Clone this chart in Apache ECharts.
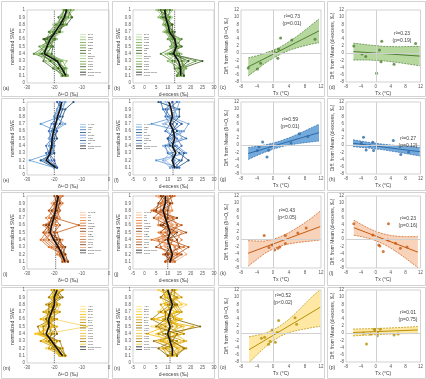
<!DOCTYPE html>
<html><head><meta charset="utf-8">
<script src="https://cdn.jsdelivr.net/npm/echarts@6/dist/echarts.min.js"></script>
<style>html,body{margin:0;padding:0;background:#fff}#c{width:426px;height:379px}</style>
</head><body><div id="c"></div>
<script>
// Normalized SWE levels at which each snow-pit profile was sampled
const sweLevels = [0.1, 0.2, 0.3, 0.4, 0.5, 0.6, 0.7, 0.8, 0.9, 1.0];

// ---------- Region 1 (green) ----------
const stations1 = ['BAG','BRD','CHU','COE','BOU','CBD','BT','TB','BNNN','RMT','SFR','FRE','PCO','ECT'];
const d18O1 = [
  [-16.5,-18.0,-20.5,-24.5,-23.0,-21.0,-19.5,-18.0,-16.0,-15.0],
  [-15.0,-16.5,-18.0,-22.0,-24.5,-22.0,-20.5,-17.0,-15.5,-16.0],
  [-17.5,-19.5,-23.0,-26.5,-22.0,-20.5,-18.0,-19.0,-17.5,-14.5],
  [-16.0,-17.0,-21.0,-25.0,-21.5,-23.0,-21.5,-18.5,-14.0,-15.5],
  [-15.5,-18.5,-17.5,-22.5,-25.5,-20.0,-19.0,-16.5,-17.0,-16.5],
  [-17.0,-16.0,-19.5,-27.5,-23.5,-19.5,-22.0,-19.5,-15.0,-14.0],
  [-16.0,-20.5,-24.0,-23.0,-21.0,-24.0,-18.5,-17.5,-18.5,-16.0],
  [-15.5,-17.5,-19.0,-21.0,-20.5,-22.5,-20.0,-15.5,-13.5,-15.0],
  [-17.5,-18.0,-22.0,-24.0,-23.0,-21.0,-17.0,-20.5,-16.5,-17.0],
  [-16.5,-17.0,-15.5,-23.5,-22.5,-19.0,-21.0,-18.0,-17.0,-14.5],
  [-15.0,-19.0,-20.5,-25.5,-24.0,-22.0,-19.0,-16.0,-15.5,-13.0],
  [-16.0,-16.5,-18.5,-22.5,-21.0,-20.5,-20.5,-19.0,-17.5,-16.5],
  [-17.0,-18.5,-21.5,-24.5,-22.5,-23.5,-18.0,-17.0,-16.0,-15.5],
  [-15.5,-15.5,-17.0,-21.5,-23.5,-21.5,-20.0,-18.5,-15.5,-15.0]
];
const dex1 = [
  [16,17,15,11,14,13,10,9,8,9],
  [15,14,18,13,12,15,12,11,10,7],
  [17,16,13,9,16,12,9,11,6,8],
  [14,18,16,14,11,14,11,8,9,10],
  [16,15,22,12,15,10,12,10,11,6],
  [15,13,12,7,13,16,9,12,7,9],
  [17,17,16,15,12,11,13,9,10,11],
  [14,16,25,11,16,13,10,11,8,7],
  [16,15,11,13,14,14,8,10,12,9],
  [15,17,14,16,12,12,12,8,9,5],
  [16,14,17,10,15,15,11,11,7,10],
  [14,16,13,14,13,12,10,9,11,8],
  [17,15,19,12,14,13,12,12,9,9],
  [16,16,10,13,13,11,9,10,10,12]
];
const depthMeanD18O1 = [-15.8,-17.3,-19.0,-23.7,-22.7,-21.5,-19.7,-17.9,-16.4,-15.5];
const depthMeanDex1 = [15.6,15.6,14.7,12.6,13.7,13.0,10.8,10.1,9.1,8.7];
const meanD18O1 = -20, meanDex1 = 13;
const txD18O1 = [[-6.2,-4.1],[-3.9,-4.4],[-3.1,-2.8],[0.2,0.5],[1.2,-1.4],[1.4,1.1],[1.9,4.2],[4.7,3.7],[10.5,3.9]];
const fitD18O1 = [[-6.2,-3.8],[11.5,6.2]];
const bandXD18O1 = [-6.2,-4,-2,0,2,4,6,8,10,11.5];
const bandHiD18O1 = [-1.3,-0.7,0.0,0.8,1.8,3.2,4.7,6.4,8.2,9.5];
const bandLoD18O1 = [-6.3,-4.5,-2.8,-1.4,-0.2,0.8,1.5,2.1,2.6,2.9];
const statD18O1 = ['r²=0.73','(p=0.01)'];
const txDex1 = [[-5.9,2.0],[-3.7,-0.2],[-2.7,-0.9],[0.2,-5.6],[1.0,0.9],[1.6,3.3],[1.4,-2.4],[4.9,-3.1],[10.7,2.7]];
const fitDex1 = [[-6.0,0.45],[11.8,-0.8]];
const bandXDex1 = [-6.0,-2,2,6,11.8];
const bandHiDex1 = [2.8,2.3,1.9,1.8,1.9];
const bandLoDex1 = [-1.9,-1.9,-2.1,-2.6,-3.5];
const statDex1 = ['r²=0.23','(p=0.19)'];

// ---------- Region 2 (blue) ----------
const stations2 = ['LAKD','CDL','CR','SP','TUOL','CRN','GRMS','BF'];
const d18O2 = [
  [-19,-24,-22,-21,-20,-21,-19,-19,-18,-17],
  [-20,-29,-21,-22,-21,-19,-25,-18,-17,-16],
  [-19,-22,-23,-20,-22,-21,-20,-20,-19,-18],
  [-20,-25,-20,-21,-19,-20,-18,-17,-16,-13],
  [-19,-21,-22,-23,-21,-22,-21,-19,-18,-18],
  [-20,-23,-21,-20,-22,-20,-17,-19,-19,-17],
  [-19,-20,-22,-21,-20,-19,-20,-18,-17,-19],
  [-20,-24,-21,-20,-21,-20,-16,-20,-18,-16]
];
const dex2 = [
  [13,9,16,12,14,10,8,13,11,9],
  [15,5,18,14,11,16,3,14,13,12],
  [11,15,10,9,18,12,14,10,8,7],
  [14,19,15,11,10,14,12,15,15,6],
  [15,12,12,16,14,9,11,9,10,14],
  [11,8,11,8,16,15,9,13,13,10],
  [13,16,17,13,10,12,16,11,9,12],
  [12,13,12,10,12,17,19,11,14,15]
];
const depthMeanD18O2 = [-19.5,-23.0,-21.5,-21.0,-20.8,-20.3,-19.5,-18.8,-17.9,-17.3];
const depthMeanDex2 = [13.0,12.0,13.5,12.0,13.0,12.5,11.0,12.0,11.5,10.5];
const meanD18O2 = -20, meanDex2 = 12.3;
const txD18O2 = [[-3.9,-1.5],[-3.5,-0.4],[-2.6,0.9],[-1.5,-3.3],[-1.1,-1.4],[-0.6,-0.2],[4.5,0.7],[6.6,3.2],[8.7,2.4]];
const fitD18O2 = [[-6.2,-2.3],[11.5,3.5]];
const bandXD18O2 = [-6.2,-4,-2,0,2,4,6,8,10,11.5];
const bandHiD18O2 = [-0.65,-0.28,0.07,0.58,1.24,2.04,3.0,4.0,5.06,5.85];
const bandLoD18O2 = [-3.95,-2.88,-1.93,-1.12,-0.46,0.04,0.4,0.7,0.96,1.15];
const statD18O2 = ['r²=0.59','(p=0.01)'];
const txDex2 = [[-3.3,2.2],[-3.9,0.6],[-2.6,-1.3],[-1.6,-0.1],[-0.8,0.8],[-0.6,-1.5],[4.7,1.3],[6.7,-2.6],[8.8,-1.9]];
const fitDex2 = [[-6.1,0.55],[11.8,-1.8]];
const bandXDex2 = [-6.1,-2,2,6,11.8];
const bandHiDex2 = [1.5,0.81,0.27,-0.14,-0.6];
const bandLoDex2 = [-0.4,-0.79,-1.29,-1.94,-3.0];
const statDex2 = ['r²=0.27','(p=0.12)'];

// ---------- Region 3 (orange) ----------
const stations3 = ['CHWS','LP','CL','BC','COLL','RMOD','CDB','CUR','CBI','GMS','MCH','LMR','MAN','BBF'];
const d18O3 = [
  [-16,-17,-19,-21,-22,-20,-21,-19,-19,-18],
  [-15,-18,-17,-19,-24,-22,-19,-20,-18,-19],
  [-17,-16,-20,-23,-21,-23,-20,-18,-20,-17],
  [-16,-19,-18,-20,-20,-19,-22,-21,-19,-18],
  [-15,-17,-22,-25,-23,-21,-18,-19,-17,-19],
  [-17,-16,-17,-18,-19,-11,-20,-20,-20,-18],
  [-16,-18,-19,-22,-24,-22,-21,-18,-19,-20],
  [-16,-17,-16,-19,-20,-23,-19,-21,-18,-18],
  [-17,-16,-20,-21,-22,-20,-20,-19,-21,-19],
  [-15,-18,-18,-17,-23,-21,-23,-20,-18,-18],
  [-16,-17,-21,-24,-21,-24,-19,-18,-19,-17],
  [-17,-18,-17,-20,-20,-18,-20,-22,-20,-19],
  [-15,-16,-19,-18,-22,-22,-21,-19,-18,-19],
  [-16,-17,-20,-23,-21,-20,-18,-20,-19,-18]
];
const dex3 = [
  [11,13,9,7,14,10,8,6,11,9],
  [13,18,15,5,9,14,5,10,7,11],
  [9,10,7,14,16,8,13,4,9,6],
  [11,15,13,10,6,12,7,12,11,9],
  [13,8,17,3,13,6,11,3,7,13],
  [9,12,11,12,9,16,9,9,8,7],
  [11,16,5,9,18,10,4,7,12,11],
  [12,10,15,14,11,7,14,5,6,8],
  [10,14,9,8,8,12,11,11,10,5],
  [11,12,13,16,13,6,6,9,11,10],
  [13,11,7,6,12,14,12,7,7,9],
  [9,14,19,11,7,10,9,4,9,12],
  [11,9,11,10,14,8,10,10,11,7],
  [12,13,10,8,10,12,7,8,8,9]
];
const depthMeanD18O3 = [-16.1,-17.2,-18.5,-20.2,-21.5,-21.0,-20.2,-19.6,-19.1,-18.5];
const depthMeanDex3 = [11,12,11,10,11,10,9,8,9,9];
const meanD18O3 = -19.5, meanDex3 = 10;
const txD18O3 = [[-2.2,1.0],[-1.0,-2.3],[-0.2,-1.6],[0.4,-3.0],[1.2,-2.5],[1.7,-2.2],[3.1,-1.2],[3.1,1.0],[6.2,1.7],[8.3,3.1]];
const fitD18O3 = [[-6.2,-3.9],[11.8,3.5]];
const bandXD18O3 = [-6.2,-4,-2,0,2,4,6,8,10,11.8];
const bandHiD18O3 = [-0.4,-0.5,-0.5,-0.05,0.75,1.85,3.15,4.6,6.2,7.8];
const bandLoD18O3 = [-7.5,-5.6,-3.9,-2.7,-1.85,-1.3,-0.95,-0.7,-0.45,-0.25];
const statD18O3 = ['r²=0.43','(p<0.05)'];
const txDex3 = [[-5.9,4.3],[-0.8,1.2],[0.8,-1.6],[1.1,-1.9],[2.0,-3.4],[3.4,4.3],[3.3,-0.2],[5.3,-1.1],[6.6,-2.5],[8.4,-2.2]];
const fitDex3 = [[-5.9,3.2],[11.3,-3.6]];
const bandXDex3 = [-5.9,-4,-2,0,2,4,6,8,10,11.3];
const bandHiDex3 = [5.3,4.15,3.06,2.17,1.48,1.04,0.8,0.71,0.72,0.7];
const bandLoDex3 = [1.1,0.75,0.26,-0.43,-1.32,-2.46,-3.8,-5.29,-6.88,-7.9];
const statDex3 = ['r²=0.23','(p=0.16)'];

// ---------- Region 4 (gold) ----------
const stations4 = ['AGH','BCR','BLN','CHP','DRY','ELK','FLT','GRN','HNT','JCK','KNG','LWR','MSC','NVD','OWL'];
const d18O4 = [
  [-17,-19,-22,-24,-23,-21,-22,-20,-21,-19],
  [-16,-21,-20,-26,-20,-24,-19,-21,-19,-18],
  [-18,-17,-24,-22,-25,-20,-23,-19,-20,-20],
  [-17,-20,-19,-27,-21,-23,-20,-22,-18,-19],
  [-16,-18,-23,-21,-19,-25,-21,-18,-21,-17],
  [-18,-22,-21,-24,-24,-19,-24,-20,-20,-21],
  [-17,-19,-25,-20,-22,-22,-18,-23,-19,-18],
  [-16,-17,-18,-25,-26,-21,-22,-19,-22,-20],
  [-18,-20,-22,-19,-20,-23,-20,-21,-17,-19],
  [-17,-23,-20,-23,-8,-20,-21,-20,-20,-18],
  [-16,-18,-21,-25,-23,-24,-19,-18,-21,-20],
  [-18,-19,-23,-22,-21,-21,-23,-21,-19,-19],
  [-17,-21,-19,-24,-24,-20,-20,-19,-20,-17],
  [-16,-18,-22,-21,-22,-23,-22,-22,-18,-20],
  [-18,-20,-20,-26,-20,-22,-21,-20,-21,-19]
];
const dex4 = [
  [12,14,8,6,13,8,11,15,9,8],
  [14,7,16,13,3,15,9,11,15,12],
  [10,17,6,16,17,5,13,9,7,14],
  [12,10,14,1,9,16,7,16,13,6],
  [14,15,7,14,21,4,15,13,11,10],
  [10,8,17,8,6,13,9,7,16,12],
  [12,18,11,11,14,11,16,14,9,8],
  [14,12,4,17,9,3,7,11,13,13],
  [10,6,12,9,24,13,11,13,7,10],
  [12,15,9,5,11,9,13,18,11,6],
  [13,10,18,13,7,15,6,9,13,12],
  [11,14,8,10,16,8,14,12,10,10],
  [12,9,14,6,12,11,11,10,14,8],
  [14,17,12,14,5,9,9,14,11,12],
  [11,12,10,11,14,13,13,9,9,10]
];
const depthMeanD18O4 = [-17,-19,-21,-23,-22,-22,-21,-20,-20,-19];
const depthMeanDex4 = [12,12,11,10,11,10,11,12,11,10];
const meanD18O4 = -20, meanDex4 = 11;
const txD18O4 = [[-2.9,-1.4],[-2.1,-1.1],[-1.1,-3.1],[-0.7,-2.3],[-0.2,0.9],[0.6,-2.5],[1.0,0.2],[1.4,3.5],[5.5,4.3],[5.9,2.5]];
const fitD18O4 = [[-6.0,-4.6],[11.8,7.2]];
const bandXD18O4 = [-6,-4,-2,0,2,4,6,8,10,11.8];
const bandHiD18O4 = [-1.0,-0.57,0.0,0.88,2.16,3.88,5.96,8.18,10.41,12.0];
const bandLoD18O4 = [-8.2,-5.97,-3.9,-2.12,-0.74,0.18,0.76,1.18,1.61,1.9];
const statD18O4 = ['r²=0.52','(p<0.02)'];
const txDex4 = [[-3.3,0.0],[-1.4,-0.2],[-0.4,1.1],[-0.2,0.9],[0.4,0.2],[1.2,1.1],[0.4,-0.7],[4.9,-0.5],[6.0,-0.2],[-2.5,-3.0]];
const fitDex4 = [[-6.1,0.2],[11.3,0.9]];
const bandXDex4 = [-6.1,0,6,11.3];
const bandHiDex4 = [1.15,1.3,1.55,1.85];
const bandLoDex4 = [-0.75,-0.4,-0.15,-0.05];
const statDex4 = ['r²=0.01','(p=0.75)'];

// ---------- styling per region ----------
const regions = [
  { stations: stations1, d18O: d18O1, dex: dex1, dmD: depthMeanD18O1, dmX: depthMeanDex1, mD: meanD18O1, mX: meanDex1,
    palette: ['#c5e0b4','#a9d18e','#8fbc6b','#70ad47','#629a3c','#548235','#476f2d','#3b5e26','#b5d69a','#9dc47d','#7fb357','#5d8f3a','#35531f','#88b867'],
    dark: '#4e7d30', fill: '#a9d18e', fillOpacity: 0.85,
    regD: { pts: txD18O1, fit: fitD18O1, bx: bandXD18O1, hi: bandHiD18O1, lo: bandLoD18O1, stat: statD18O1, pos: [51, 3] },
    regX: { pts: txDex1, fit: fitDex1, bx: bandXDex1, hi: bandHiDex1, lo: bandLoDex1, stat: statDex1, pos: [56, 20] },
    letters: ['(a)','(b)','(c)','(d)'], legTop: 23 },
  { stations: stations2, d18O: d18O2, dex: dex2, dmD: depthMeanD18O2, dmX: depthMeanDex2, mD: meanD18O2, mX: meanDex2,
    palette: ['#9dc3e6','#5b9bd5','#2e75b6','#1f4e79','#4472c4','#8faadc','#2f5597','#6a9fd4'],
    dark: '#2e6aa8', fill: '#5b9bd5', fillOpacity: 0.85,
    regD: { pts: txD18O2, fit: fitD18O2, bx: bandXD18O2, hi: bandHiD18O2, lo: bandLoD18O2, stat: statD18O2, pos: [49, 14] },
    regX: { pts: txDex2, fit: fitDex2, bx: bandXDex2, hi: bandHiDex2, lo: bandLoDex2, stat: statDex2, pos: [62, 33] },
    letters: ['(e)','(f)','(g)','(h)'], legTop: 21 },
  { stations: stations3, d18O: d18O3, dex: dex3, dmD: depthMeanD18O3, dmX: depthMeanDex3, mD: meanD18O3, mX: meanDex3,
    palette: ['#f8cbad','#f4b183','#ee9b63','#ed7d31','#dd6d22','#c55a11','#a94c0e','#843c0c','#f2a36e','#e08a4f','#cf6a2a','#b35214','#7a360b','#e9a070'],
    dark: '#c55a11', fill: '#f8cbad', fillOpacity: 0.85,
    regD: { pts: txD18O3, fit: fitD18O3, bx: bandXD18O3, hi: bandHiD18O3, lo: bandLoD18O3, stat: statD18O3, pos: [46, 11] },
    regX: { pts: txDex3, fit: fitDex3, bx: bandXDex3, hi: bandHiDex3, lo: bandLoDex3, stat: statDex3, pos: [62, 19] },
    letters: ['(i)','(j)','(k)','(l)'], legTop: 15 },
  { stations: stations4, d18O: d18O4, dex: dex4, dmD: depthMeanD18O4, dmX: depthMeanDex4, mD: meanD18O4, mX: meanDex4,
    palette: ['#ffe699','#ffd966','#ffcd33','#ffc000','#e6ad00','#cc9a00','#bf9000','#a67d00','#7f6000','#f5d35c','#e8be2e','#d9a90f','#b38600','#8c6a00','#f0c419'],
    dark: '#b8900a', fill: '#ffe699', fillOpacity: 0.9,
    regD: { pts: txD18O4, fit: fitD18O4, bx: bandXD18O4, hi: bandHiD18O4, lo: bandLoD18O4, stat: statD18O4, pos: [42, 2] },
    regX: { pts: txDex4, fit: fitDex4, bx: bandXDex4, hi: bandHiDex4, lo: bandLoDex4, stat: statDex4, pos: [62, 19] },
    letters: ['(m)','(n)','(o)','(p)'], legTop: 15 }
];

const ROW_TOP = [10, 102, 196, 290];
const COLS = [{ left: 27, width: 82 }, { left: 133, width: 81 }, { left: 241, width: 80 }, { left: 346, width: 81 }];
const FRAMES_X = [[1, 108], [112, 214], [218, 324], [327, 425]];
const FRAMES_Y = [[1, 96], [98, 190], [192, 285], [287, 378]];
const FONT = '"Liberation Sans", Arial, sans-serif';
const TXT = '#404040';

const grids = [], xAxes = [], yAxes = [], series = [], legends = [], graphics = [];
const axLabel = { fontSize: 4.5, color: '#595959', margin: 2, fontFamily: FONT };
const axName = { fontSize: 5, color: TXT, fontFamily: FONT };
const noLine = { axisLine: { show: false }, axisTick: { show: false }, splitLine: { show: false } };

regions.forEach((r, ri) => {
  for (let c = 0; c < 4; c++) {
    const g = ri * 4 + c;
    const h = c < 2 ? 73 : 72;
    grids.push({ left: COLS[c].left, width: COLS[c].width, top: ROW_TOP[ri], height: h,
      show: true, borderColor: '#bfbfbf', borderWidth: 0.7 });

    if (c < 2) {
      xAxes.push(Object.assign({ type: 'value', gridIndex: g,
        min: c === 0 ? -30 : -5, max: c === 0 ? 0 : 30, interval: c === 0 ? 10 : 5,
        name: c === 0 ? 'δ¹⁸O (‰)' : 'd-excess (‰)', nameLocation: 'middle', nameGap: 9,
        nameTextStyle: axName, axisLabel: axLabel }, noLine));
      yAxes.push(Object.assign({ type: 'value', gridIndex: g, min: 0, max: 1, interval: 0.1,
        name: 'normalized SWE', nameLocation: 'middle', nameGap: 12, nameTextStyle: axName,
        axisLabel: axLabel }, noLine));

      const vals = c === 0 ? r.d18O : r.dex;
      r.stations.forEach((name, i) => {
        const col = r.palette[i % r.palette.length];
        series.push({ type: 'line', name, xAxisIndex: g, yAxisIndex: g,
          data: sweLevels.map((y, k) => [vals[i][k], y]),
          symbol: 'circle', symbolSize: 2.2, lineStyle: { width: 0.8, color: col },
          itemStyle: { color: col }, z: 2 });
      });
      const dm = c === 0 ? r.dmD : r.dmX;
      series.push({ type: 'line', name: 'Depth mean', xAxisIndex: g, yAxisIndex: g,
        data: sweLevels.map((y, k) => [dm[k], y]), symbol: 'none',
        lineStyle: { width: 1.6, color: '#111' }, itemStyle: { color: '#111' }, z: 5 });
      const m = c === 0 ? r.mD : r.mX;
      series.push({ type: 'line', name: 'mean', xAxisIndex: g, yAxisIndex: g,
        data: [[m, 0], [m, 1]], symbol: 'none',
        lineStyle: { width: 0.8, color: '#444', type: [1.2, 1] }, itemStyle: { color: '#444' }, z: 4 });

      legends.push({ data: r.stations.concat(['Depth mean', 'mean']), orient: 'vertical',
        left: c === 0 ? COLS[c].left + 53 : COLS[c].left + 3, top: ROW_TOP[ri] + r.legTop,
        icon: 'rect', itemWidth: 6, itemHeight: 0.8, itemGap: 0, padding: 0, selectedMode: false,
        textStyle: { fontSize: 2.4, lineHeight: 2.7, color: TXT, fontFamily: FONT, padding: [0, 0, 0, -3] } });
    } else {
      xAxes.push(Object.assign({ type: 'value', gridIndex: g, min: -8, max: 12, interval: 4,
        name: 'Tx (°C)', nameLocation: 'middle', nameGap: 9, nameTextStyle: axName,
        axisLabel: axLabel }, noLine));
      yAxes.push(Object.assign({ type: 'value', gridIndex: g, min: -8, max: 12, interval: 2,
        name: c === 2 ? 'Diff. from Mean (δ¹⁸O, ‰)' : 'Diff. from Mean (d-excess, ‰)',
        nameLocation: 'middle', nameGap: c === 2 ? 12 : 11, nameTextStyle: axName,
        axisLabel: axLabel }, noLine));

      const reg = c === 2 ? r.regD : r.regX;
      // confidence band fill
      series.push({ type: 'custom', xAxisIndex: g, yAxisIndex: g, silent: true, z: 1, clip: true,
        data: [[0, 0]],
        renderItem: (params, api) => {
          const pts = [];
          reg.bx.forEach((x, i) => pts.push(api.coord([x, reg.hi[i]])));
          for (let i = reg.bx.length - 1; i >= 0; i--) pts.push(api.coord([reg.bx[i], reg.lo[i]]));
          return { type: 'polygon', shape: { points: pts }, style: { fill: r.fill, opacity: r.fillOpacity } };
        } });
      // band edges
      [reg.hi, reg.lo].forEach(edge => {
        series.push({ type: 'line', xAxisIndex: g, yAxisIndex: g, silent: true, z: 3,
          data: reg.bx.map((x, i) => [x, edge[i]]), symbol: 'none',
          lineStyle: { width: 0.7, color: r.dark, type: [2, 1] } });
      });
      // fitted line
      series.push({ type: 'line', xAxisIndex: g, yAxisIndex: g, silent: true, z: 3,
        data: reg.fit, symbol: 'none', lineStyle: { width: 1, color: r.dark } });
      // station points + zero axes
      series.push({ type: 'scatter', xAxisIndex: g, yAxisIndex: g, z: 4,
        data: reg.pts, symbolSize: 3, itemStyle: { color: r.dark },
        markLine: { silent: true, symbol: ['none', 'none'], label: { show: false },
          lineStyle: { color: '#d0d0d0', width: 1, type: 'solid' },
          data: [{ xAxis: 0 }, { yAxis: 0 }] } });

      graphics.push({ type: 'text', z: 100, x: COLS[c].left + reg.pos[0], y: ROW_TOP[ri] + reg.pos[1],
        style: { text: reg.stat.join('\n'), fontSize: 5, lineHeight: 7, fill: TXT,
          fontFamily: FONT, textAlign: 'center', textVerticalAlign: 'top' } });
    }

    // panel letter
    graphics.push({ type: 'text', z: 100, x: FRAMES_X[c][0] + 2, y: ROW_TOP[ri] + h + 6,
      style: { text: r.letters[c], fontSize: 5, fill: TXT, fontFamily: FONT, textVerticalAlign: 'middle' } });
    // panel frame
    graphics.push({ type: 'rect', silent: true,
      shape: { x: FRAMES_X[c][0] + 0.5, y: FRAMES_Y[ri][0] + 0.5,
        width: FRAMES_X[c][1] - FRAMES_X[c][0], height: FRAMES_Y[ri][1] - FRAMES_Y[ri][0] },
      style: { fill: 'none', stroke: '#c8c8c8', lineWidth: 0.8 } });
  }
});

const chart = echarts.init(document.getElementById('c'), null, { renderer: 'canvas' });
chart.setOption({
  animation: false,
  backgroundColor: '#fff',
  textStyle: { fontFamily: FONT },
  grid: grids, xAxis: xAxes, yAxis: yAxes, legend: legends, series, graphic: graphics
});
</script></body></html>
